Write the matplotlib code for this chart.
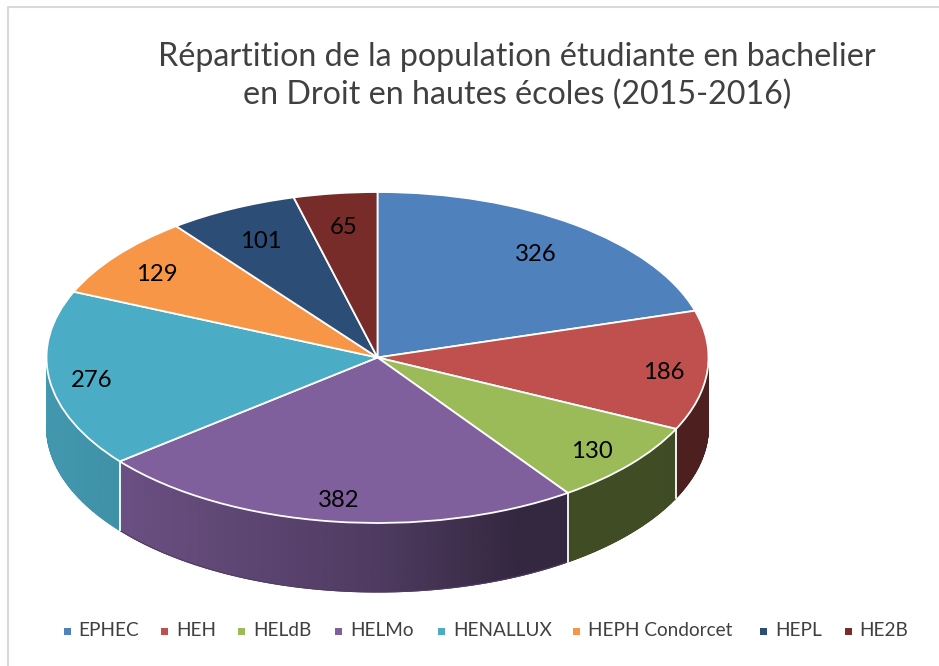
import numpy as np
import matplotlib
matplotlib.use("Agg")
import matplotlib.pyplot as plt
from matplotlib.patches import Rectangle
from matplotlib.colors import LinearSegmentedColormap

plt.rcParams['font.family'] = ['Lato', 'DejaVu Sans']

schools = ['EPHEC', 'HEH', 'HELdB', 'HELMo', 'HENALLUX', 'HEPH Condorcet', 'HEPL', 'HE2B']
students = [326, 186, 130, 382, 276, 129, 101, 65]
colors = ['#4F81BD', '#C0504D', '#9BBB59', '#7F5F9C', '#4BACC6', '#F79646', '#2C4D75', '#772C2A']
title = "Répartition de la population étudiante en bachelier\nen Droit en hautes écoles (2015-2016)"

W, H = 939, 666
cx, cy, rx, ry, depth = 377.5, 357.5, 331, 165.5, 69
label_r = [.80, .867, .85, .85, .87, .845, .805, .81]
legend_x = [67, 164.5, 241.7, 338.7, 441.7, 576.7, 763.7, 848]

fig = plt.figure(figsize=(W / 100, H / 100), dpi=100, facecolor='white')

# page layer in pixel coordinates
bg = fig.add_axes([0, 0, 1, 1])
bg.set_xlim(0, W)
bg.set_ylim(H, 0)
bg.axis('off')
bg.plot([8, 8, W], [H, 7, 7], color='#D9D9D9', lw=1.5)
bg.text(517, 76, title, ha='center', va='center', fontsize=23.2, color='#404040', linespacing=1.3)

for x, name, c in zip(legend_x, schools, colors):
    bg.add_patch(Rectangle((x - 3.5, 627.5), 7, 7, color=c, lw=0))
    bg.text(x + 11.5, 631, name, va='center', ha='left', fontsize=13.7, color='#404040')

# pie layer: unit circle squeezed to the ellipse
ax = fig.add_axes([(cx - rx) / W, 1 - (cy + ry) / H, 2 * rx / W, 2 * ry / H])
ax.patch.set_alpha(0)

shares = np.array(students) / sum(students) * 360
edges = np.concatenate([[0], np.cumsum(shares)])
d = depth / ry


def shade(px):
    return np.interp(px, [47, 120, 378, 520, 709], [.88, .84, .62, .41, .40])


# side wall, only the front half of the cake shows
for i, c in enumerate(colors):
    a0, a1 = max(edges[i], 90), min(edges[i + 1], 270)
    if a1 <= a0:
        continue
    t = np.radians(np.linspace(a0, a1, int(a1 - a0) * 2 + 2))
    X = np.vstack([np.sin(t), np.sin(t)])
    Y = np.vstack([np.cos(t) - d, np.cos(t)])
    C = shade(cx + rx * X)
    cmap = LinearSegmentedColormap.from_list('wall', ['black', c])
    ax.pcolormesh(X, Y, C, shading='gouraud', cmap=cmap, vmin=0, vmax=1, clip_on=False, zorder=1)
    # soft rim so the lower edge is not jagged
    ax.plot(X[0], Y[0], color=cmap(C[0].mean()), lw=.8, clip_on=False, zorder=1)

# white seams between wall pieces
for a in edges:
    if 90 < a < 270:
        t = np.radians(a)
        ax.plot([np.sin(t)] * 2, [np.cos(t), np.cos(t) - d], color='white', lw=1.3, clip_on=False, zorder=3)

wedges, _ = ax.pie(students, colors=colors, startangle=90, counterclock=False, radius=1,
                   wedgeprops={'edgecolor': 'white', 'linewidth': 1.3, 'clip_on': False, 'zorder': 4})
ax.set_aspect('auto')
ax.set_xlim(-1, 1)
ax.set_ylim(-1, 1)
ax.axis('off')

for v, a0, a1, r in zip(students, edges[:-1], edges[1:], label_r):
    t = np.radians((a0 + a1) / 2)
    ax.text(r * np.sin(t), r * np.cos(t) - .02, str(v), ha='center', va='center', fontsize=17.2,
            color='black', zorder=5)

fig.savefig('out.png', dpi=100)
